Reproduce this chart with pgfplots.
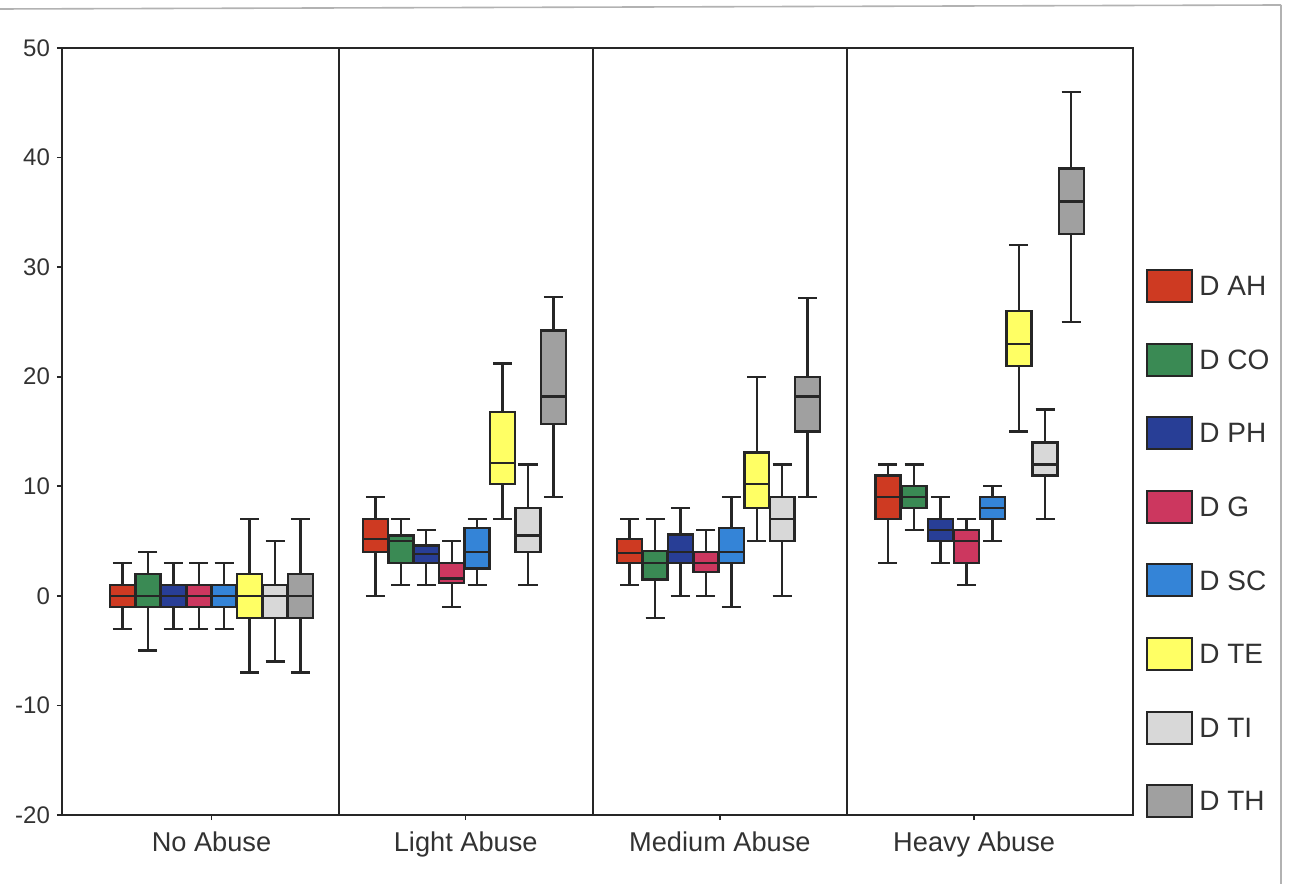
\documentclass[border=0pt]{standalone}
\usepackage{pgfplots}
\pgfplotsset{compat=1.18}
\usepackage{pgfplotstable}
\usepgfplotslibrary{statistics}
\usepackage{fontspec}
\setmainfont{Liberation Sans}

\definecolor{cAH}{RGB}{206,58,34}
\definecolor{cCO}{RGB}{58,138,84}
\definecolor{cPH}{RGB}{40,62,150}
\definecolor{cG}{RGB}{204,55,95}
\definecolor{cSC}{RGB}{52,132,215}
\definecolor{cTE}{RGB}{255,255,100}
\definecolor{cTI}{RGB}{216,216,216}
\definecolor{cTH}{RGB}{160,160,160}
\definecolor{txt}{RGB}{50,50,50}

% rows: D AH, D CO, D PH, D G, D SC, D TE, D TI, D TH
\pgfplotstableread{
lw lq med uq uw
-3 -1 0 1 3
-5 -1 0 2 4
-3 -1 0 1 3
-3 -1 0 1 3
-3 -1 0 1 3
-7 -2 0 2 7
-6 -2 0 1 5
-7 -2 0 2 7
}\tNo
\pgfplotstableread{
lw lq med uq uw
0 4 5.2 7 9
1 3 5 5.5 7
1 3 3.8 4.6 6
-1 1.2 1.6 3 5
1 2.5 4 6.2 7
7 10.2 12.1 16.8 21.2
1 4 5.5 8 12
9 15.7 18.2 24.2 27.3
}\tLight
\pgfplotstableread{
lw lq med uq uw
1 3 3.9 5.2 7
-2 1.5 3 4.1 7
0 3 4 5.6 8
0 2.2 3 4 6
-1 3 4 6.2 9
5 8 10.2 13.1 20
0 5 7 9 12
9 15 18.2 20 27.2
}\tMedium
\pgfplotstableread{
lw lq med uq uw
3 7 9 11 12
6 8 9 10 12
3 5 6 7 9
1 3 5 6 7
5 7 8 9 10
15 21 23 26 32
7 11 12 14 17
25 33 36 39 46
}\tHeavy

\newcommand{\bx}[4]{%
  \pgfplotstablegetelem{#2}{lw}\of#1\let\vlw\pgfplotsretval
  \pgfplotstablegetelem{#2}{lq}\of#1\let\vlq\pgfplotsretval
  \pgfplotstablegetelem{#2}{med}\of#1\let\vmed\pgfplotsretval
  \pgfplotstablegetelem{#2}{uq}\of#1\let\vuq\pgfplotsretval
  \pgfplotstablegetelem{#2}{uw}\of#1\let\vuw\pgfplotsretval
  \edef\tmpbx{\noexpand\addplot[boxplot prepared={draw direction=y, draw position=#3,
      lower whisker=\vlw, lower quartile=\vlq, median=\vmed,
      upper quartile=\vuq, upper whisker=\vuw,
      box extend=0.098, whisker extend=0.075},
    fill=#4, draw=black!85, line width=1.2pt] coordinates {};}%
  \tmpbx}

\begin{document}
\begin{tikzpicture}
\useasboundingbox (-31pt,-34.5pt) rectangle (614pt,407.5pt);
\begin{axis}[
  at={(0,0)}, anchor=south west,
  scale only axis, width=535.5pt, height=383.5pt,
  xmin=-0.588, xmax=3.625, ymin=-20, ymax=50,
  ytick={-20,-10,0,10,20,30,40,50},
  xtick={0,1,2,3},
  xticklabels={No Abuse, Light Abuse, Medium Abuse, Heavy Abuse},
  tick pos=left, tick align=outside, major tick length=2.5pt,
  tick style={black!85, line width=0.8pt},
  axis line style={black!85, line width=1pt},
  /pgf/number format/assume math mode=true,
  yticklabel style={font=\fontsize{12}{14}\selectfont, text=txt},
  xticklabel style={font=\fontsize{13.6}{16}\selectfont, text=txt, yshift=-2.5pt},
  clip=false,
]
\bx{\tNo}{0}{-0.35}{cAH}
\bx{\tNo}{1}{-0.25}{cCO}
\bx{\tNo}{2}{-0.15}{cPH}
\bx{\tNo}{3}{-0.05}{cG}
\bx{\tNo}{4}{0.05}{cSC}
\bx{\tNo}{5}{0.15}{cTE}
\bx{\tNo}{6}{0.25}{cTI}
\bx{\tNo}{7}{0.35}{cTH}
\bx{\tLight}{0}{0.645}{cAH}
\bx{\tLight}{1}{0.745}{cCO}
\bx{\tLight}{2}{0.845}{cPH}
\bx{\tLight}{3}{0.945}{cG}
\bx{\tLight}{4}{1.045}{cSC}
\bx{\tLight}{5}{1.145}{cTE}
\bx{\tLight}{6}{1.245}{cTI}
\bx{\tLight}{7}{1.345}{cTH}
\bx{\tMedium}{0}{1.645}{cAH}
\bx{\tMedium}{1}{1.745}{cCO}
\bx{\tMedium}{2}{1.845}{cPH}
\bx{\tMedium}{3}{1.945}{cG}
\bx{\tMedium}{4}{2.045}{cSC}
\bx{\tMedium}{5}{2.145}{cTE}
\bx{\tMedium}{6}{2.245}{cTI}
\bx{\tMedium}{7}{2.345}{cTH}
\bx{\tHeavy}{0}{2.661}{cAH}
\bx{\tHeavy}{1}{2.764}{cCO}
\bx{\tHeavy}{2}{2.867}{cPH}
\bx{\tHeavy}{3}{2.970}{cG}
\bx{\tHeavy}{4}{3.073}{cSC}
\bx{\tHeavy}{5}{3.176}{cTE}
\bx{\tHeavy}{6}{3.279}{cTI}
\bx{\tHeavy}{7}{3.382}{cTH}
\draw[black!85, line width=1pt] (axis cs:0.5,-20) -- (axis cs:0.5,50);
\draw[black!85, line width=1pt] (axis cs:1.5,-20) -- (axis cs:1.5,50);
\draw[black!85, line width=1pt] (axis cs:2.5,-20) -- (axis cs:2.5,50);
\end{axis}
% legend
\foreach \c/\t [count=\i from 0] in {cAH/D AH, cCO/D CO, cPH/D PH, cG/D G, cSC/D SC, cTE/D TE, cTI/D TI, cTH/D TH} {
  \pgfmathsetmacro{\yy}{264.5-36.8*\i}
  \filldraw[fill=\c, draw=black!85, line width=1pt] (542.5pt,\yy pt-8pt) rectangle (565pt,\yy pt+8pt);
  \node[anchor=west, inner sep=0pt, text=txt, font=\fontsize{14}{16}\selectfont] at (568.5pt,\yy pt) {\t};
}
% scan frame
\draw[gray!60, line width=0.8pt] (-31pt,403pt) -- (609.5pt,405pt);
\draw[gray!60, line width=0.8pt] (609.5pt,405pt) -- (609.5pt,-34.5pt);
\end{tikzpicture}
\end{document}
